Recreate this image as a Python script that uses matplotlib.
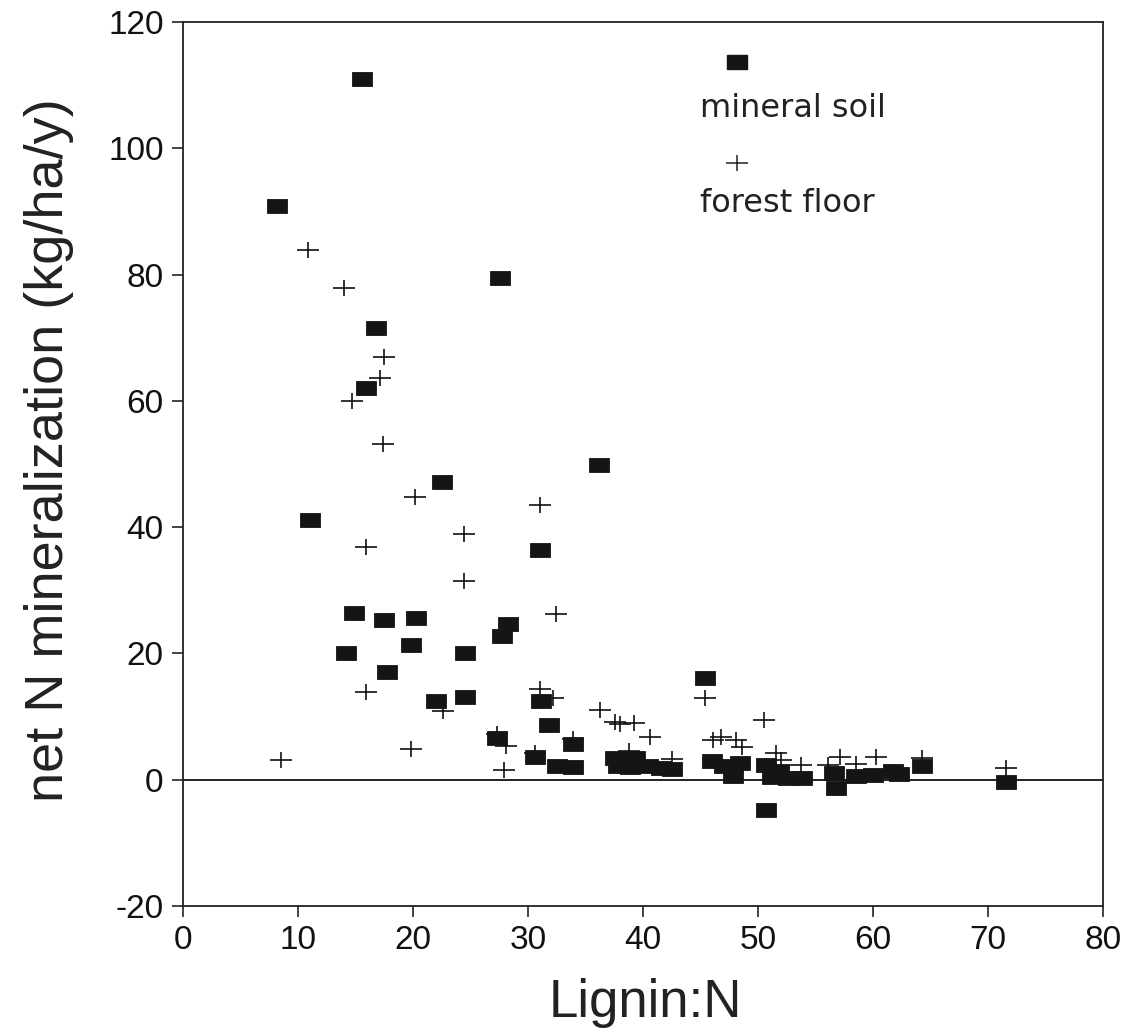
import matplotlib
matplotlib.use('Agg')
import matplotlib.pyplot as plt
from matplotlib.path import Path
from matplotlib import font_manager

# mineral soil (filled squares)
soil_x = [8.2, 15.6, 27.6, 16.8, 15.9, 22.5, 11.0, 31.0, 36.2,
          14.9, 17.5, 20.3, 28.3, 27.7, 19.8, 14.2, 24.5, 17.7,
          22.0, 24.5, 31.1, 31.8, 27.3, 30.6, 32.5, 33.9, 33.9, 45.4,
          37.6, 39.3, 37.8, 38.9, 40.4, 41.6, 42.5,
          46.0, 47.0, 48.4, 47.8,
          50.7, 51.8, 51.2, 52.6, 53.8, 50.7,
          56.6, 56.8, 58.5, 60.0, 61.7, 62.3, 64.3, 71.6]
soil_y = [90.9, 111.0, 79.4, 71.5, 62.1, 47.2, 41.1, 36.4, 49.9,
          26.4, 25.3, 25.6, 24.7, 22.8, 21.3, 20.1, 20.0, 17.1,
          12.4, 13.1, 12.4, 8.7, 6.6, 3.6, 2.1, 5.7, 2.0, 16.1,
          3.4, 3.4, 2.1, 2.0, 2.2, 1.9, 1.7,
          2.9, 2.2, 2.6, 0.6,
          2.3, 1.4, 0.5, 0.2, 0.2, -4.8,
          1.0, -1.3, 0.6, 0.7, 1.4, 0.9, 2.1, -0.3]

# forest floor (plus signs)
floor_x = [10.9, 14.0, 17.5, 17.1, 14.7, 17.4, 20.2, 31.0, 24.4, 15.9,
           24.4, 32.4, 15.9, 22.6, 31.0, 32.2, 27.3, 28.1, 27.9, 19.8,
           8.5, 36.3, 37.6, 38.0, 39.2, 40.6, 45.4, 46.1, 46.8, 48.1,
           50.5, 51.6, 53.7, 56.1, 57.1, 60.3, 64.3, 71.6,
           33.9, 30.6, 38.8, 42.5, 48.6, 52.0, 58.5]
floor_y = [83.9, 77.8, 67.0, 63.7, 60.0, 53.1, 44.8, 43.5, 38.9, 36.9,
           31.5, 26.2, 13.9, 10.9, 14.4, 12.9, 7.3, 5.3, 1.5, 4.9,
           3.2, 11.0, 9.2, 8.9, 9.0, 6.8, 13.0, 6.3, 6.8, 6.3,
           9.5, 4.2, 2.3, 2.3, 3.6, 3.6, 3.4, 1.8,
           6.5, 4.3, 4.5, 3.3, 5.2, 3.1, 2.5]

x_ticks = [0, 10, 20, 30, 40, 50, 60, 70, 80]
y_ticks = [-20, 0, 20, 40, 60, 80, 100, 120]

names = {f.name for f in font_manager.fontManager.ttflist}
if 'Liberation Sans Narrow' in names:
    xlab_font, xlab_size = 'Liberation Sans Narrow', 45
else:
    xlab_font, xlab_size = 'Liberation Sans', 38

plt.rcParams['font.family'] = ['Liberation Sans', 'DejaVu Sans']
plt.rcParams['axes.unicode_minus'] = False

# marker shapes (wider than tall, like the scanned figure)
square = Path([(-1, -0.72), (1, -0.72), (1, 0.72), (-1, 0.72), (-1, -0.72)],
              [Path.MOVETO, Path.LINETO, Path.LINETO, Path.LINETO, Path.CLOSEPOLY])
plus = Path([(-1, 0), (1, 0), (0, -0.7), (0, 0.7)],
            [Path.MOVETO, Path.LINETO, Path.MOVETO, Path.LINETO])

fig = plt.figure(figsize=(11.39, 10.34), dpi=100)
ax = fig.add_axes([0.1607, 0.1238, 0.8077, 0.8549])

ax.axhline(0, color='#111111', lw=1.3, zorder=1)

ax.plot(floor_x, floor_y, linestyle='none', marker=plus, markersize=16,
        markerfacecolor='none', markeredgecolor='#111111', markeredgewidth=1.2, zorder=2)
ax.plot(soil_x, soil_y, linestyle='none', marker=square, markersize=15,
        markerfacecolor='#151515', markeredgecolor='#151515', markeredgewidth=0.6, zorder=3)

# legend: key above label
ax.plot([0.6025], [0.955], transform=ax.transAxes, linestyle='none', marker=square,
        markersize=15, markerfacecolor='#151515', markeredgecolor='#151515', clip_on=False)
ax.text(0.562, 0.8925, 'mineral soil', transform=ax.transAxes, fontsize=23,
        family='DejaVu Sans', color='#222222', va='baseline', ha='left')
ax.plot([0.6025], [0.841], transform=ax.transAxes, linestyle='none', marker=plus,
        markersize=16, markerfacecolor='none', markeredgecolor='#222222',
        markeredgewidth=1.1, clip_on=False)
ax.text(0.562, 0.785, 'forest floor', transform=ax.transAxes, fontsize=23,
        family='DejaVu Sans', color='#222222', va='baseline', ha='left')

ax.set_xlim(0, 80)
ax.set_ylim(-20, 120)
ax.set_xticks(x_ticks)
ax.set_yticks(y_ticks)
ax.tick_params(direction='out', length=8, width=1.1, labelsize=24,
               colors='#111111', pad=6)

for s in ax.spines.values():
    s.set_linewidth(1.3)
    s.set_color('#222222')

ax.set_ylabel('net N mineralization (kg/ha/y)', fontsize=39, color='#222222')
ax.yaxis.set_label_coords(-0.118, 0.516)
ax.set_xlabel('Lignin:N', fontsize=xlab_size, family=xlab_font, color='#222222')
ax.xaxis.set_label_coords(0.502, -0.082)

fig.savefig('out.png', dpi=100, facecolor='white')
